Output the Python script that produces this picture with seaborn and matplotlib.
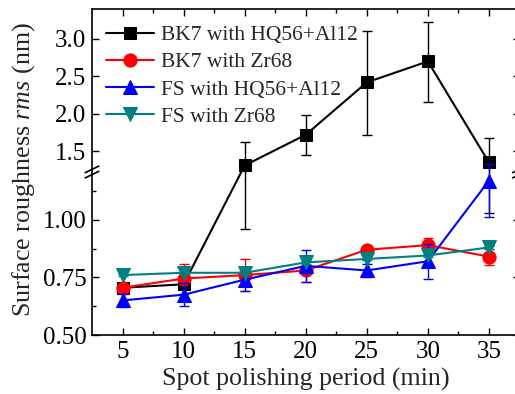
import numpy as np
import pandas as pd
import matplotlib
matplotlib.use("Agg")
import matplotlib.pyplot as plt
import seaborn as sns

sns.set_theme(style="ticks")
plt.rcParams['font.family'] = ['Liberation Serif', 'DejaVu Serif']
plt.rcParams['mathtext.fontset'] = 'custom'
plt.rcParams['mathtext.rm'] = 'Liberation Serif'
plt.rcParams['mathtext.it'] = 'Liberation Serif:italic'

# ---- data ----
period = [5, 10, 15, 20, 25, 30, 35]
bk7_hq = [0.705, 0.72, 1.31, 1.72, 2.42, 2.70, 1.35]
bk7_hq_err_lo = [0.01, 0.02, 0.35, 0.27, 0.71, 0.54, 0.32]
bk7_hq_err_hi = [0.01, 0.02, 0.31, 0.26, 0.69, 0.52, 0.32]
bk7_zr = [0.705, 0.745, 0.76, 0.78, 0.87, 0.89, 0.84]
bk7_zr_err = [0.01, 0.065, 0.07, 0.05, 0.01, 0.03, 0.035]
fs_hq = [0.65, 0.675, 0.74, 0.80, 0.78, 0.82, 1.17]
fs_hq_err = [0.03, 0.05, 0.05, 0.07, 0.03, 0.075, 0.16]
fs_zr = [0.76, 0.77, 0.77, 0.815, 0.83, 0.845, 0.88]
fs_zr_err = [0.005, 0.005, 0.005, 0.005, 0.005, 0.005, 0.005]

labels = ["BK7 with HQ56+Al12", "BK7 with Zr68", "FS with HQ56+Al12", "FS with Zr68"]
colors = ["black", "#ff0000", "#0000ff", "#008080"]
markers = ["s", "o", "^", "v"]
msizes = [8.5, 9.5, 9.5, 9.5]
yticks_major = [0.5, 0.75, 1.0, 1.5, 2.0, 2.5, 3.0]
ytick_labels = ["0.50", "0.75", "1.00", "1.5", "2.0", "2.5", "3.0"]
yticks_minor = [0.625, 0.875, 1.125]
xticks = [5, 10, 15, 20, 25, 30, 35]

BRK = 1.2
LO_SCALE = 230.0
HI_SCALE = 74.7

def fwd(y):
    y = np.asarray(y, dtype=float)
    return np.where(y <= BRK, (y - 0.5) * LO_SCALE, (BRK - 0.5) * LO_SCALE + (y - BRK) * HI_SCALE)

def inv(f):
    f = np.asarray(f, dtype=float)
    fb = (BRK - 0.5) * LO_SCALE
    return np.where(f <= fb, f / LO_SCALE + 0.5, BRK + (f - fb) / HI_SCALE)

W, H = 515, 394
fig = plt.figure(figsize=(W / 100, H / 100), dpi=100)
ax = fig.add_axes([92 / W, 1 - 335 / H, (519.5 - 92) / W, (335 - 9) / H])
ax.set_yscale('function', functions=(fwd, inv))
ax.patch.set_linewidth(0)

series = [bk7_hq, bk7_zr, fs_hq, fs_zr]
errs = [[bk7_hq_err_lo, bk7_hq_err_hi], bk7_zr_err, fs_hq_err, fs_zr_err]
for i, (vals, lab) in enumerate(zip(series, labels)):
    df = pd.DataFrame({"period": period, "rms": vals})
    ax.errorbar(period, vals, yerr=errs[i], fmt='none', ecolor=colors[i],
                elinewidth=1.0, capsize=3.5, capthick=1.0, zorder=2 + i)
    sns.lineplot(data=df, x="period", y="rms", ax=ax, color=colors[i], marker=markers[i],
                 markersize=msizes[i], markeredgecolor=colors[i], linewidth=1.5,
                 label=lab, zorder=3 + i)

ax.set_xlim(2.5, 37.5)
ax.set_ylim(0.5, 3.4)
ax.set_xticks(xticks)
ax.set_xticks([7.5, 12.5, 17.5, 22.5, 27.5, 32.5], minor=True)
ax.set_yticks(yticks_major)
ax.set_yticklabels(ytick_labels)
ax.set_yticks(yticks_minor, minor=True)
ax.tick_params(which='both', direction='in', top=True, right=True, width=1.0, colors='black',
               labelsize=18, pad=4)
ax.tick_params(which='major', length=5)
ax.tick_params(which='minor', length=3)
for s in ax.spines.values():
    s.set_linewidth(1.2)
    s.set_color('black')
ax.spines['right'].set_visible(False)

ax.set_xlabel("Spot polishing period (min)", fontsize=18.7, labelpad=4)
ax.set_ylabel("Surface roughness $\\mathit{rms}$ (nm)", fontsize=18.7)
ax.yaxis.set_label_coords(-0.128, 0.507)

# break marks
yb = 1 - (172 - 9) / (335 - 9)
for xa in (0.0, 1.0):
    for dy in (-0.008, 0.008):
        ax.plot([xa - 0.016, xa + 0.016], [yb + dy - 0.01, yb + dy + 0.01],
                transform=ax.transAxes, color='black', lw=1.2, clip_on=False, zorder=10)

leg = ax.legend(loc='upper left', frameon=False, fontsize=15.5, handlelength=2.25,
                handletextpad=0.3, labelspacing=0.33, borderaxespad=0.35,
                bbox_to_anchor=(-0.005, 1.0))

fig.savefig("out.png", dpi=100)
